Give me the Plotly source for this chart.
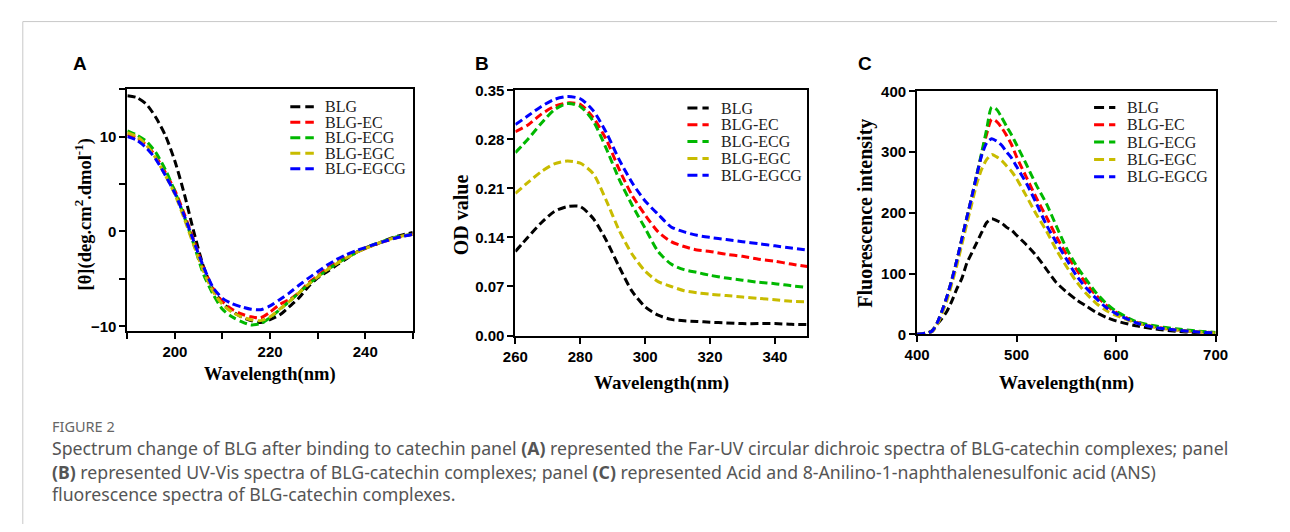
import plotly.graph_objects as go

W, H = 1290, 532

series_names = ["BLG", "BLG-EC", "BLG-ECG", "BLG-EGC", "BLG-EGCG"]
series_colors = ["#000000", "#ff0000", "#00b800", "#c8bc00", "#0000ff"]

# ---------------- Panel A : Far-UV CD ----------------
cd_wavelength = [190, 192, 194, 196, 198, 200, 202, 204, 206, 208, 210, 212, 214, 216, 218,
                 220, 222, 224, 226, 228, 230, 232, 234, 236, 238, 240, 242, 244, 246, 248, 250]
cd_blg = [14.3, 14.1, 13.4, 12.0, 10.1, 7.4, 3.9, -0.1, -3.7, -6.1, -7.5, -8.4, -9.0, -9.4, -9.6,
          -9.3, -8.8, -7.95, -7.05, -5.85, -4.9, -4.25, -3.55, -2.9, -2.25, -1.75, -1.4, -1.0, -0.6, -0.35, -0.1]
cd_ec = [10.2, 9.85, 9.1, 7.9, 6.2, 4.3, 1.8, -1.0, -3.8, -6.0, -7.4, -8.2, -8.7, -9.0, -9.1,
         -8.5, -7.7, -7.2, -6.5, -5.45, -4.7, -3.9, -3.3, -2.7, -2.2, -1.8, -1.4, -1.05, -0.75, -0.5, -0.3]
cd_ecg = [10.6, 10.15, 9.5, 8.3, 6.5, 4.2, 1.5, -1.4, -4.5, -6.6, -8.2, -9.0, -9.5, -9.85, -9.7,
          -9.1, -8.25, -7.4, -6.5, -5.6, -4.8, -4.05, -3.4, -2.8, -2.25, -1.75, -1.35, -1.0, -0.65, -0.45, -0.3]
cd_egc = [10.4, 10.0, 9.1, 7.7, 5.9, 3.9, 1.3, -1.5, -4.2, -6.3, -7.7, -8.5, -9.0, -9.3, -9.4,
          -9.0, -8.2, -7.4, -6.5, -5.6, -4.8, -4.05, -3.4, -2.8, -2.25, -1.8, -1.4, -1.0, -0.7, -0.45, -0.3]
cd_egcg = [10.0, 9.6, 8.8, 7.6, 5.9, 4.0, 1.6, -1.1, -3.7, -5.9, -7.05, -7.6, -7.95, -8.2, -8.25,
           -7.85, -7.2, -6.5, -5.7, -4.95, -4.25, -3.55, -2.95, -2.45, -2.05, -1.7, -1.35, -1.05, -0.75, -0.5, -0.3]

# ---------------- Panel B : UV-Vis ----------------
uv_wavelength = [260, 264, 268, 272, 276, 280, 284, 288, 292, 296, 300, 304, 308, 312, 316, 320,
                 325, 330, 335, 340, 345, 350]
uv_blg = [0.120, 0.141, 0.161, 0.177, 0.184, 0.184, 0.167, 0.136, 0.098, 0.063, 0.041, 0.029, 0.023,
          0.021, 0.020, 0.019, 0.018, 0.017, 0.017, 0.017, 0.016, 0.0156]
uv_ec = [0.291, 0.301, 0.316, 0.327, 0.332, 0.330, 0.311, 0.280, 0.237, 0.200, 0.172, 0.148, 0.134,
         0.127, 0.122, 0.120, 0.116, 0.113, 0.109, 0.106, 0.102, 0.0985]
uv_ecg = [0.261, 0.281, 0.303, 0.322, 0.331, 0.327, 0.306, 0.267, 0.223, 0.186, 0.153, 0.120, 0.102,
          0.094, 0.090, 0.086, 0.082, 0.079, 0.076, 0.074, 0.071, 0.0686]
uv_egc = [0.203, 0.219, 0.234, 0.245, 0.249, 0.246, 0.231, 0.193, 0.150, 0.116, 0.092, 0.077, 0.070,
          0.064, 0.061, 0.059, 0.057, 0.055, 0.053, 0.051, 0.049, 0.048]
uv_egcg = [0.301, 0.314, 0.327, 0.337, 0.341, 0.338, 0.321, 0.290, 0.251, 0.218, 0.192, 0.173, 0.155,
           0.148, 0.143, 0.140, 0.137, 0.134, 0.131, 0.128, 0.125, 0.122]

# ---------------- Panel C : ANS fluorescence ----------------
fl_wavelength = [400, 405, 410, 415, 420, 425, 430, 435, 440, 445, 450, 455, 460, 465, 470, 475,
                 480, 485, 490, 495, 500, 510, 520, 530, 540, 550, 560, 570, 580, 590, 600,
                 620, 640, 660, 680, 700]
fl_blg = [0, 0.5, 2, 6, 16, 26, 38, 55, 75, 92, 117, 134, 151, 168, 184, 190,
          187, 183, 176, 171, 163, 147, 129, 107, 85, 70, 57, 46.5, 36, 28, 22,
          14, 8.5, 5, 3, 2]
fl_ec = [0, 1, 2, 5, 18, 38, 62, 90, 122, 157, 192, 226, 262, 297, 330, 354,
         350, 340, 327, 312, 292, 258, 224, 193, 161, 132, 107, 83, 64, 48, 36,
         20, 12, 7.5, 4.5, 2.5]
fl_ecg = [0, 1, 2, 5, 18, 38, 62, 90, 122, 157, 192, 226, 263, 300, 338, 374,
          370, 357, 342, 328, 312, 279, 245, 215, 178, 142, 113, 90, 68, 51, 38,
          21, 13.5, 9, 5.5, 3]
fl_egc = [0, 1, 2, 4, 15, 34, 56, 84, 114, 148, 182, 215, 248, 272, 288, 296,
          292, 286, 277, 268, 256, 227, 197, 170, 139, 112, 87, 67, 51, 39, 31,
          19, 11, 7, 4, 2]
fl_egcg = [0, 1, 2, 5, 18, 38, 62, 90, 122, 157, 192, 226, 262, 295, 315, 322,
           318, 311, 300, 290, 276, 248, 215, 180, 151, 124, 97, 76, 59, 44, 34,
           19, 11, 7, 4, 2]

panels = [
    ("x", "y", cd_wavelength, [cd_blg, cd_ec, cd_ecg, cd_egc, cd_egcg]),
    ("x2", "y2", uv_wavelength, [uv_blg, uv_ec, uv_ecg, uv_egc, uv_egcg]),
    ("x3", "y3", fl_wavelength, [fl_blg, fl_ec, fl_ecg, fl_egc, fl_egcg]),
]

fig = go.Figure()
for xa, ya, xs, ys_list in panels:
    for name, color, ys in zip(series_names, series_colors, ys_list):
        fig.add_trace(go.Scatter(
            x=xs, y=ys, mode="lines", name=name, showlegend=False,
            xaxis=xa, yaxis=ya,
            line=dict(color=color, width=3, dash="8px,4px", shape="spline", smoothing=0.7),
        ))

def px_x(px):
    return px / W

def px_y(py):
    return 1 - py / H

tick_font = dict(family="Liberation Sans, Arial", size=15, color="black", weight="bold")

def axis(domain, rng, tickvals, anchor, minor_vals=None, fmt=None):
    d = dict(
        domain=domain, range=rng, anchor=anchor,
        showline=True, linecolor="black", linewidth=2, mirror=True,
        ticks="outside", ticklen=6, tickwidth=2, tickcolor="black",
        tickmode="array", tickvals=tickvals, tickfont=tick_font,
        showgrid=False, zeroline=False, fixedrange=True,
    )
    if fmt:
        d["tickformat"] = fmt
    if minor_vals:
        d["minor"] = dict(tickmode="array", tickvals=minor_vals, ticks="outside",
                          ticklen=6, tickwidth=2, tickcolor="black", showgrid=False)
    return d

A_x = [px_x(116.7), px_x(408)]
A_y = [px_y(332.7), px_y(82.7)]
B_x = [px_x(512.7), px_x(810.7)]
B_y = [px_y(337.3), px_y(84)]
C_x = [px_x(922.7), px_x(1227.3)]
C_y = [px_y(336), px_y(85)]

a_xt = [200, 220, 240]
a_xm = [190, 210, 230, 250]
a_yt = [-10, 0, 10]
a_ym = [-5, 5, 15]
b_xt = [260, 280, 300, 320, 340]
b_yt = [0, 0.07, 0.14, 0.21, 0.28, 0.35]
c_xt = [400, 500, 600, 700]
c_yt = [0, 100, 200, 300, 400]

fig.update_layout(
    width=W, height=H, margin=dict(l=0, r=0, t=0, b=0),
    paper_bgcolor="white", plot_bgcolor="white",
    xaxis=axis(A_x, [190, 250], a_xt, "y", a_xm),
    yaxis=axis(A_y, [-10.5, 15], a_yt, "x", a_ym),
    xaxis2=axis(B_x, [260, 350], b_xt, "y2"),
    yaxis2=axis(B_y, [0, 0.35], b_yt, "x2", fmt=".2f"),
    xaxis3=axis(C_x, [400, 700], c_xt, "y3"),
    yaxis3=axis(C_y, [0, 400], c_yt, "x3"),
)

annotations = []
shapes = []

def add_text(text, x, y, size, family, color="black", xanchor="center", yanchor="middle", angle=0, weight="normal"):
    annotations.append(dict(
        text=text, x=px_x(x), y=px_y(y), xref="paper", yref="paper",
        xanchor=xanchor, yanchor=yanchor, showarrow=False, textangle=angle,
        font=dict(family=family, size=size, color=color, weight=weight),
    ))

serif = "Liberation Serif, Times New Roman, serif"
sans = "Liberation Sans, Arial, sans-serif"

# panel letters
add_text("A", 68, 56, 19, sans, weight="bold")
add_text("B", 478.3, 56.7, 19, sans, weight="bold")
add_text("C", 870, 56, 19, sans, weight="bold")

# axis titles
add_text("Wavelength(nm)", 262.3, 378, 18.5, serif, weight="bold")
add_text("Wavelength(nm)", 661.7, 386.7, 19, serif, weight="bold")
add_text("Wavelength(nm)", 1075, 386.7, 19, serif, weight="bold")
add_text("[θ](deg.cm<sup>2</sup>.dmol<sup>-1</sup>)", 71.7, 212, 18.5, serif, angle=-90, weight="bold")
add_text("OD value", 456.7, 212.5, 20, serif, angle=-90, weight="bold")
add_text("Fluorescence intensity", 870, 211, 20, serif, angle=-90, weight="bold")

# legends (line sample + label) per panel
legend_specs = [
    (283, 307, 316, 101, 16.0),
    (688.3, 710, 720.7, 102.3, 17.35),
    (1103.3, 1125, 1135, 101.7, 17.9),
]
for lx0, lx1, tx, y0, dy in legend_specs:
    for i, (name, color) in enumerate(zip(series_names, series_colors)):
        yy = y0 + dy * i
        shapes.append(dict(type="line", xref="paper", yref="paper",
                           x0=px_x(lx0), x1=px_x(lx1), y0=px_y(yy), y1=px_y(yy),
                           line=dict(color=color, width=3, dash="10px,5px")))
        add_text(name, tx, yy, 16, serif, color="#222222", xanchor="left")

# page frame lines
shapes.append(dict(type="line", xref="paper", yref="paper", x0=px_x(10), x1=1, y0=px_y(13), y1=px_y(13),
                   line=dict(color="#c8c8c8", width=1)))
shapes.append(dict(type="line", xref="paper", yref="paper", x0=px_x(10), x1=px_x(10), y0=px_y(13), y1=0,
                   line=dict(color="#c8c8c8", width=1)))

# caption
cap_font = "Noto Sans, Open Sans, sans-serif"
add_text("FIGURE 2", 38, 431, 14.5, cap_font, color="#666666", xanchor="left")
add_text("Spectrum change of BLG after binding to catechin panel <b>(A)</b> represented the Far-UV circular dichroic spectra of BLG-catechin complexes; panel",
         38, 454, 17.7, cap_font, color="#555555", xanchor="left")
add_text("<b>(B)</b> represented UV-Vis spectra of BLG-catechin complexes; panel <b>(C)</b> represented Acid and 8-Anilino-1-naphthalenesulfonic acid (ANS)",
         38, 478, 17.7, cap_font, color="#555555", xanchor="left")
add_text("fluorescence spectra of BLG-catechin complexes.",
         38, 501, 17.7, cap_font, color="#555555", xanchor="left")

fig.update_layout(annotations=annotations, shapes=shapes)

page_fix = ("var s=document.createElement('style');"
            "s.textContent='html,body{margin:0!important;padding:0!important;overflow:hidden!important;"
            "width:1290px;height:532px;}';"
            "document.head.appendChild(s);"
            "var g=document.getElementsByClassName('plotly-graph-div')[0];"
            "g.style.position='fixed';g.style.left='0px';g.style.top='0px';")
fig.write_html("out.html", post_script=page_fix, config={"displayModeBar": False})
